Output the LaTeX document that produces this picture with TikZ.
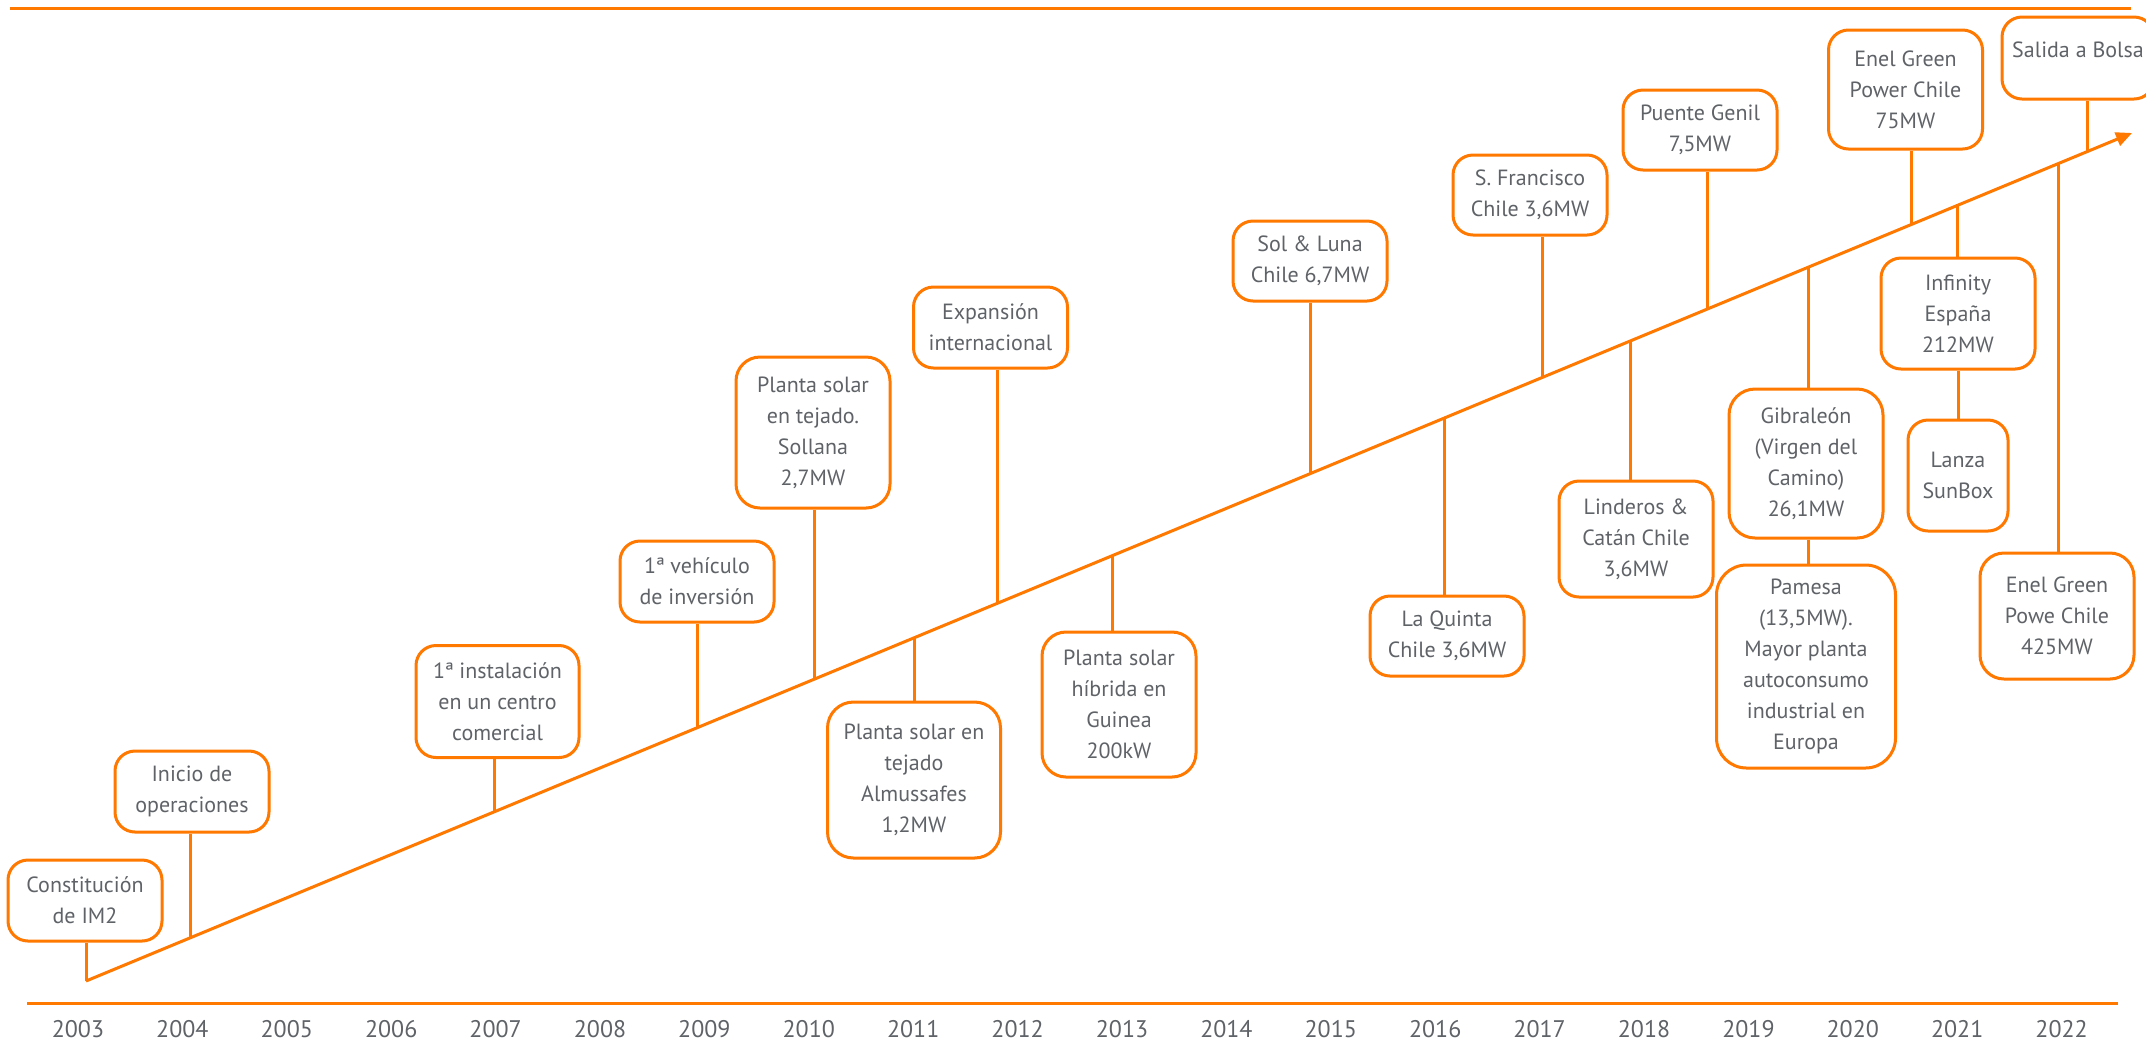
\documentclass[tikz,border=0pt]{standalone}
\usepackage{fontspec}
\setmainfont{PT Sans}
\usetikzlibrary{arrows.meta, positioning}
\definecolor{imorange}{RGB}{255,120,0}
\definecolor{imgray}{RGB}{95,99,104}
\tikzset{
  event/.style={rectangle, draw=imorange, line width=1.5pt, rounded corners=10pt,
    fill=white, align=center, text=imgray, font=\fontsize{11}{15.5}\selectfont,
    minimum width=77pt, minimum height=40.5pt, inner sep=2pt},
  stem/.style={draw=imorange, line width=1.5pt},
  mainline/.style={draw=imorange, line width=1.5pt, -{Triangle[length=8pt, width=7pt]}},
  rule/.style={draw=imorange, line width=1.5pt},
  year/.style={text=imgray, font=\fontsize{12}{14}\selectfont, inner sep=1pt},
}

\begin{document}
\begin{tikzpicture}[x=0.5pt, y=-0.5pt]
  \useasboundingbox (0,0) rectangle (2146,1041);

  % frame rules and years
  \draw[rule] (10,8) -- (2131,8);
  \draw[rule] (27,1003) -- (2118,1003);
  \foreach \y in {2003,...,2022}
    \node[year] (y\y) at ({78+(\y-2003)*104.4},1029) {\y};

  % events above the line
  \node[event] (const) at (85,900.5) {Constitución\\de IM2};
  \node[event] (inicio) at (192,791.5) {Inicio de\\operaciones};
  \node[event, minimum width=81.5pt, minimum height=56pt] (instal) at (497.5,701.5) {1ª instalación\\en un centro\\comercial};
  \node[event] (vehic) at (697,581.5) {1ª vehículo\\de inversión};
  \node[event, minimum height=75.5pt, rounded corners=12pt] (sollana) at (813,432.5) {Planta solar\\en tejado.\\Sollana\\2,7MW};
  \node[event] (expans) at (990.5,327.5) {Expansión\\internacional};
  \node[event, minimum height=40pt] (solluna) at (1310,261) {Sol \& Luna\\Chile 6,7MW};
  \node[event, minimum height=40pt] (sfran) at (1530,195) {S. Francisco\\Chile 3,6MW};
  \node[event, minimum height=40pt] (puente) at (1700,130) {Puente Genil\\7,5MW};
  \node[event, minimum height=59.5pt] (enel75) at (1905.5,89.5) {Enel Green\\Power Chile\\75MW};
  \node[event, minimum width=76pt, minimum height=41pt] (bolsa) at (2078,58) {\raisebox{8pt}{Salida a Bolsa}};

  % events below the line
  \node[event, minimum width=86.5pt, minimum height=78pt, rounded corners=13pt] (almus) at (914,780) {Planta solar en\\tejado\\Almussafes\\1,2MW};
  \node[event, minimum height=72.5pt, rounded corners=12pt] (guinea) at (1119,704.5) {Planta solar\\híbrida en\\Guinea\\200kW};
  \node[event, minimum height=40pt] (quinta) at (1447,636) {La Quinta\\Chile 3,6MW};
  \node[event, minimum height=58pt] (linder) at (1636,539) {Linderos \&\\Catán Chile\\3,6MW};
  \node[event, minimum height=74.5pt, rounded corners=13pt] (gibra) at (1806,463.5) {Gibraleón\\(Virgen del\\Camino)\\26,1MW};
  \node[event, minimum width=89.5pt, minimum height=101.5pt, rounded corners=15pt, below=12pt of gibra] (pamesa) {Pamesa\\(13,5MW).\\Mayor planta\\autoconsumo\\industrial en\\Europa};
  \node[event, minimum height=55.5pt] (infin) at (1958,313.5) {Infinity\\España\\212MW};
  \node[event, minimum width=50pt, minimum height=55.5pt, below=24pt of infin] (lanza) {Lanza\\SunBox};
  \node[event, minimum height=63pt, rounded corners=12pt] (enel425) at (2057,616) {Enel Green\\Powe Chile\\425MW};

  % timeline
  \coordinate (tl-start) at (86,981);
  \coordinate (tl-end) at (2132,133);
  \draw[mainline] (tl-start) -- (tl-end);

  \foreach \n/\sx in {const/86, inicio/190, instal/494, vehic/697, sollana/814, expans/997,
      solluna/1310, sfran/1542, puente/1707, enel75/1911, bolsa/2087} {
    \coordinate (on-\n) at (\sx,{981-0.4145*(\sx-86)});
    \draw[stem] (\n.south -| on-\n) -- (on-\n);
  }
  \foreach \n/\sx in {almus/914, guinea/1112, quinta/1444, linder/1630, gibra/1808,
      infin/1957, enel425/2058} {
    \coordinate (on-\n) at (\sx,{981-0.4145*(\sx-86)});
    \draw[stem] (\n.north -| on-\n) -- (on-\n);
  }
  \draw[stem] (gibra.south -| on-gibra) -- (pamesa.north -| on-gibra);
  \draw[stem] (infin.south) -- (lanza.north -| infin.south);
\end{tikzpicture}
\end{document}
